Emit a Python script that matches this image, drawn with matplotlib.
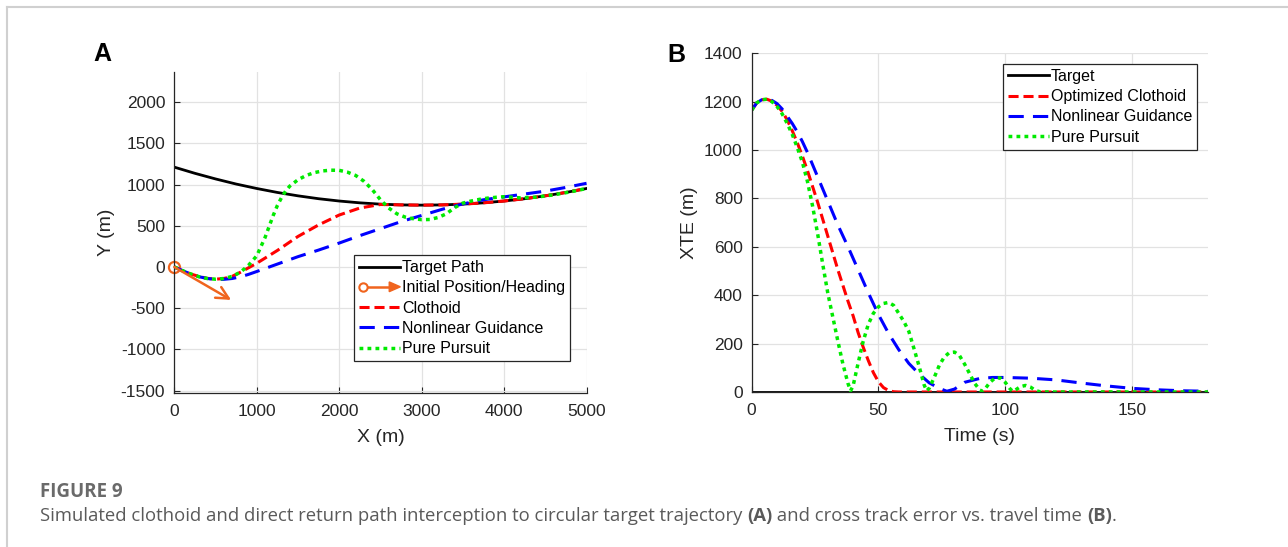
import matplotlib
matplotlib.use('Agg')
from matplotlib import pyplot as plt
from matplotlib.lines import Line2D
from matplotlib.patches import Polygon
from matplotlib.legend_handler import HandlerBase

plt.rcParams['font.family'] = ['Liberation Sans', 'DejaVu Sans']
plt.rcParams['axes.unicode_minus'] = False

# ---- panel A: paths in the X-Y plane (m) ----
target_x = [0, 250, 500, 750, 1000, 1250, 1500, 1750, 2000, 2250, 2500, 2750,
            3000, 3250, 3500, 3750, 4000, 4250, 4500, 4750, 5000]
target_y = [1211, 1136, 1068, 1006, 952, 904, 863, 828, 800, 778, 762, 753,
            750, 753, 762, 778, 800, 828, 863, 904, 952]

clothoid_x = [0, 100, 200, 300, 400, 500, 600, 700, 800, 900, 1000, 1250, 1500,
              1750, 2000, 2250, 2500, 2750, 3000, 3250, 3500, 3750, 4000, 4250,
              4500, 4750, 5000]
clothoid_y = [0, -45, -85, -115, -138, -148, -140, -115, -65, -10, 45, 200, 370,
              510, 630, 715, 758, 753, 750, 753, 762, 778, 800, 828, 863, 904, 952]

nonlin_x = [0, 100, 200, 300, 400, 500, 600, 700, 800, 900, 1000, 1250, 1500,
            1750, 2000, 2250, 2500, 2750, 3000, 3250, 3500, 3750, 4000, 4250,
            4500, 4750, 5000]
nonlin_y = [0, -45, -85, -118, -140, -150, -150, -140, -120, -90, -55, 35, 125,
            205, 290, 380, 465, 550, 625, 700, 765, 815, 850, 885, 920, 965, 1015]

pursuit_x = [0, 100, 200, 300, 400, 500, 600, 700, 800, 900, 1000, 1100, 1200,
             1250, 1300, 1350, 1400, 1500, 1600, 1700, 1800, 1900, 2000, 2100,
             2200, 2300, 2400, 2500, 2600, 2700, 2800, 2900, 3000, 3100, 3200,
             3300, 3400, 3500, 3600, 3700, 3800, 3900, 4000, 4200, 4400, 4600,
             4800, 5000]
pursuit_y = [0, -45, -85, -118, -140, -148, -140, -115, -65, 20, 135, 355, 625,
             745, 840, 920, 980, 1058, 1110, 1145, 1165, 1174, 1172, 1150, 1110,
             1040, 940, 816, 715, 645, 605, 585, 574, 576, 600, 645, 720, 775,
             800, 820, 835, 845, 852, 838, 848, 875, 910, 952]

start_xy = (0, 0)
heading_tip = (690, -400)

# ---- panel B: cross track error vs time ----
t_target = [0, 180]
xte_target = [0, 0]

t_clothoid = [0, 2, 4, 6, 8, 10, 12, 14, 16, 18, 20, 22, 24, 26, 28, 30, 32, 34,
              36, 38, 40, 42, 44, 46, 48, 50, 52, 54, 56, 58, 180]
xte_clothoid = [1165, 1195, 1208, 1210, 1202, 1185, 1160, 1125, 1080, 1030, 975,
                915, 850, 785, 715, 645, 575, 505, 440, 375, 315, 245, 185, 130,
                80, 42, 18, 6, 1, 0, 0]

t_nonlin = [0, 2, 4, 6, 8, 10, 12, 14, 16, 18, 20, 22, 24, 26, 28, 30, 34, 38,
            42, 46, 50, 54, 58, 62, 66, 70, 74, 77, 80, 84, 90, 95, 100, 110,
            120, 130, 140, 150, 160, 170, 180]
xte_nonlin = [1165, 1195, 1208, 1210, 1205, 1192, 1170, 1140, 1110, 1075, 1035,
              990, 940, 890, 840, 790, 690, 600, 505, 410, 320, 242, 175, 118,
              75, 38, 15, 3, 12, 40, 56, 60, 60, 57, 50, 37, 25, 15, 9, 5, 3]

t_pursuit = [0, 2, 4, 6, 8, 10, 12, 14, 16, 18, 20, 22, 24, 26, 28, 30, 32, 34,
             36, 38, 39, 40, 42, 44, 46, 48, 50, 52, 54, 56, 58, 60, 62, 64, 66,
             68, 69, 70, 72, 74, 76, 78, 80, 82, 84, 86, 88, 90, 91, 92, 94, 96,
             98, 100, 102, 103, 104, 106, 108, 110, 112, 114, 180]
xte_pursuit = [1165, 1195, 1208, 1210, 1200, 1180, 1150, 1110, 1065, 1010, 950,
               870, 770, 655, 530, 410, 310, 210, 115, 35, 5, 25, 120, 210, 280,
               325, 352, 366, 370, 358, 325, 292, 250, 180, 108, 30, 5, 15, 60,
               110, 145, 163, 165, 150, 115, 75, 35, 8, 3, 12, 40, 58, 58, 40,
               12, 3, 8, 22, 27, 20, 6, 0, 0]

orange = '#f0641e'
green = '#00ea00'
axis_col = '#262626'
grid_col = '#e2e2e2'


class HeadingHandler(HandlerBase):
    def create_artists(self, legend, orig_handle, xdescent, ydescent,
                       width, height, fontsize, trans):
        y = height / 2 - ydescent
        x0 = -xdescent
        x1 = x0 + width
        line = Line2D([x0 + 3, x1 - 6], [y, y], color=orange, lw=1.8, transform=trans)
        circ = Line2D([x0 + 3], [y], marker='o', mfc='white', mec=orange,
                      ms=6, mew=1.5, transform=trans)
        head = Polygon([[x1 - 8, y + 3.5], [x1, y], [x1 - 8, y - 3.5]],
                       closed=True, color=orange, transform=trans)
        return [line, circ, head]


def style_axes(ax):
    for s in ['top', 'right']:
        ax.spines[s].set_visible(False)
    for s in ['left', 'bottom']:
        ax.spines[s].set_color(axis_col)
        ax.spines[s].set_linewidth(0.9)
    ax.tick_params(direction='in', length=4, width=0.8, colors=axis_col,
                   labelsize=12.5)
    ax.tick_params(axis='x', pad=8)
    ax.tick_params(axis='y', pad=6.5)
    ax.grid(True, color=grid_col, lw=0.9)
    ax.set_axisbelow(True)


fig = plt.figure(figsize=(12.88, 5.47), dpi=100)

# ---------------- A ----------------
axA = fig.add_axes([0.1353, 0.281, 0.3201, 0.5874])
style_axes(axA)
axA.plot(target_x, target_y, color='black', lw=2.0, label='Target Path')
axA.annotate('', xy=heading_tip, xytext=start_xy,
             arrowprops=dict(arrowstyle='->', color=orange, lw=1.8,
                             mutation_scale=22, shrinkA=0, shrinkB=0))
axA.plot([start_xy[0]], [start_xy[1]], marker='o', mfc='none', mec=orange,
         ms=8, mew=1.6, clip_on=False)
axA.plot(clothoid_x, clothoid_y, color='red', lw=2.2, dashes=(3.3, 1.6),
         label='Clothoid')
axA.plot(nonlin_x, nonlin_y, color='blue', lw=2.2, dashes=(5, 3),
         label='Nonlinear Guidance')
axA.plot(pursuit_x, pursuit_y, color=green, lw=2.5, dashes=(1.1, 1.2),
         label='Pure Pursuit')
axA.set_xlim(0, 5000)
axA.set_ylim(-1532, 2365)
axA.set_xticks([0, 1000, 2000, 3000, 4000, 5000])
axA.set_yticks([-1500, -1000, -500, 0, 500, 1000, 1500, 2000])
axA.set_xlabel('X (m)', fontsize=14, color=axis_col, labelpad=7)
axA.set_ylabel('Y (m)', fontsize=14, color=axis_col, labelpad=4)

init_handle = Line2D([], [])
hA, lA = axA.get_legend_handles_labels()
handlesA = [hA[0], init_handle] + hA[1:]
labelsA = [lA[0], 'Initial Position/Heading'] + lA[1:]
legA = axA.legend(handlesA, labelsA, loc='lower right',
                  bbox_to_anchor=(0.9595, 0.1005), borderaxespad=0,
                  fontsize=11.5, handlelength=2.6, handletextpad=0.1,
                  labelspacing=0.33, borderpad=0.3, fancybox=False,
                  framealpha=1, edgecolor=axis_col,
                  handler_map={init_handle: HeadingHandler()})
legA.get_frame().set_linewidth(0.9)

# ---------------- B ----------------
axB = fig.add_axes([0.5836, 0.2834, 0.3543, 0.6192])
style_axes(axB)
axB.plot(t_target, xte_target, color='black', lw=2.0, label='Target')
axB.plot(t_clothoid, xte_clothoid, color='red', lw=2.2, dashes=(3.3, 1.6),
         label='Optimized Clothoid')
axB.plot(t_nonlin, xte_nonlin, color='blue', lw=2.2, dashes=(5, 3),
         label='Nonlinear Guidance')
axB.plot(t_pursuit, xte_pursuit, color=green, lw=2.5, dashes=(1.1, 1.2),
         label='Pure Pursuit')
axB.set_xlim(0, 180)
axB.set_ylim(0, 1400)
axB.set_xticks([0, 50, 100, 150])
axB.set_yticks(list(range(0, 1401, 200)))
axB.set_xlabel('Time (s)', fontsize=14, color=axis_col, labelpad=7)
axB.set_ylabel('XTE (m)', fontsize=14, color=axis_col, labelpad=4)
legB = axB.legend(loc='upper right', bbox_to_anchor=(0.976, 0.968),
                  borderaxespad=0, fontsize=11.5, handlelength=2.6,
                  handletextpad=0.1, labelspacing=0.33, borderpad=0.3,
                  fancybox=False, framealpha=1, edgecolor=axis_col)
legB.get_frame().set_linewidth(0.9)

# panel letters
fig.text(93 / 1288, 1 - 42 / 547, 'A', fontsize=18, fontweight='bold',
         ha='left', va='top')
fig.text(667 / 1288, 1 - 43 / 547, 'B', fontsize=18, fontweight='bold',
         ha='left', va='top')

# page border lines
fig.add_artist(Line2D([7 / 1288, 1], [1 - 7 / 547, 1 - 7 / 547],
                      color='#d0d0d0', lw=1.5, transform=fig.transFigure))
fig.add_artist(Line2D([7 / 1288, 7 / 1288], [0, 1 - 7 / 547],
                      color='#d0d0d0', lw=1.5, transform=fig.transFigure))

# caption
cap_font = ['Open Sans', 'DejaVu Sans']
fig.text(40 / 1288, 1 - 497 / 547, 'FIGURE 9', fontsize=13.5, fontweight='bold',
         color='#6a6a6a', family=cap_font, va='baseline')

pieces = [('Simulated clothoid and direct return path interception to circular '
           'target trajectory ', 'normal'),
          ('(A)', 'bold'),
          (' and cross track error vs. travel time ', 'normal'),
          ('(B)', 'bold'),
          ('.', 'normal')]
fig.canvas.draw()
renderer = fig.canvas.get_renderer()
x_px = 40
for txt, w in pieces:
    t = fig.text(x_px / 1288, 1 - 521 / 547, txt, fontsize=13.3, fontweight=w,
                 color='#5a5a5a', family=cap_font, va='baseline')
    bb = t.get_window_extent(renderer=renderer)
    x_px = bb.x1

fig.savefig('out.png', dpi=100)
